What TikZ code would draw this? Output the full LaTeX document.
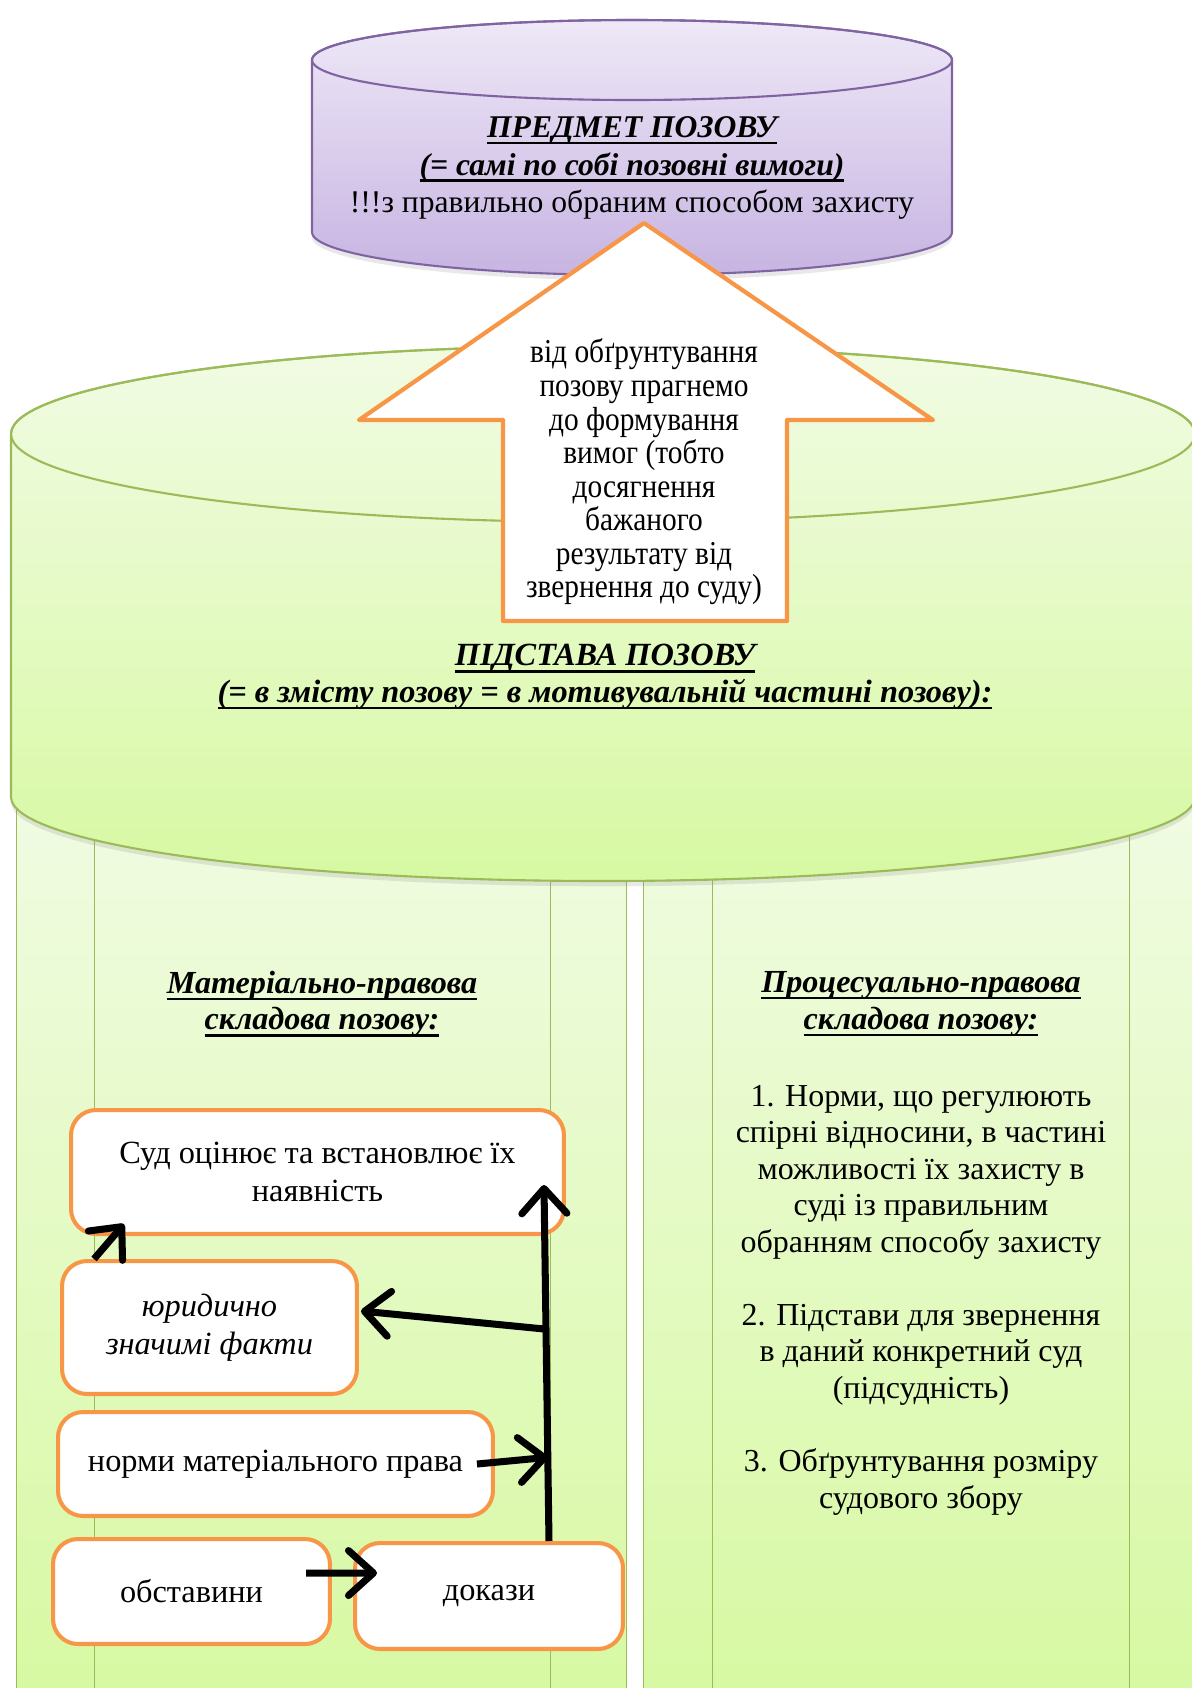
\documentclass[tikz,border=0pt]{standalone}
\usepackage{fontspec}
\setmainfont{Liberation Serif}
\newfontfamily\narrowfont[FakeStretch=0.88]{Liberation Serif}
\usetikzlibrary{arrows.meta,shadows}
\definecolor{lilac}{HTML}{8064A2}
\definecolor{liltop}{HTML}{EEE8F7}
\definecolor{lilbot}{HTML}{C7B4E2}
\definecolor{leaf}{HTML}{9BBB59}
\definecolor{leaftop}{HTML}{F1FBE4}
\definecolor{leafbot}{HTML}{D7F9A2}
\definecolor{orng}{HTML}{F79646}
\newcommand{\hd}[1]{\setbox0=\hbox{\bfseries\itshape #1}\leavevmode\rlap{\lower2.4pt\hbox{\vrule width\wd0 height0pt depth1.4pt}}\box0}
\begin{document}
\begin{tikzpicture}[x=0.02cm,y=0.02cm,line join=round,
	box/.style={draw=orng,line width=2.3pt,fill=white,rounded corners=0.5cm,align=center,font=\fontsize{18.4}{21.5}\selectfont},
	arr/.style={-{Straight Barb[length=5mm,width=9mm,round]},line width=4pt},
	shd/.style={drop shadow={opacity=0.18,shadow xshift=0pt,shadow yshift=-3pt}}]
	\useasboundingbox (0,0) rectangle (1192,-1688);
	%stovpy
	\foreach \a/\b/\c/\d in {16/94/550/626,643/712/1129/1210}{
		\draw[leaf,top color=leaftop,bottom color=leafbot](\a,-780)rectangle(\d,-1700);
		\draw[leaf](\b,-780)--(\b,-1700) (\c,-780)--(\c,-1700);}
	%pidstava
	\draw[leaf,line width=1.2pt,shd,top color=leaftop,bottom color=leafbot](11,-434)--(11,-797)
		arc[start angle=180,end angle=360,x radius=592,y radius=84]--(1195,-434)
		arc[start angle=0,end angle=180,x radius=592,y radius=88]--cycle;
	\draw[leaf,line width=1.2pt](603,-434)ellipse[x radius=592,y radius=88];
	%predmet
	\draw[lilac,line width=1.2pt,shd,top color=liltop,bottom color=lilbot](312,-60)--(312,-232)
		arc[start angle=180,end angle=360,x radius=320,y radius=43]--(952,-60)
		arc[start angle=0,end angle=180,x radius=320,y radius=40]--cycle;
	\draw[lilac,line width=1.2pt](632,-60)ellipse[x radius=320,y radius=40];
	\node[align=center,font=\fontsize{18}{21.2}\selectfont](predmet) at (632,-168)
		{\hd{ПРЕДМЕТ ПОЗОВУ}\\ \hd{(= самі по собі позовні вимоги)}\\ !!!з правильно обраним способом захисту};
	%strilka
	\draw[orng,line width=2.4pt,fill=white](644,-223)--(933,-420)--(787,-420)--(787,-621)
		--(503,-621)--(503,-420)--(359,-420)--cycle;
	\node[align=center,font=\narrowfont\fontsize{19}{19.1}\selectfont](meta) at (644,-472)
		{від обґрунтування\\ позову прагнемо\\ до формування\\ вимог (тобто\\ досягнення\\ бажаного\\ результату від\\ звернення до суду)};
	\node[align=center,font=\fontsize{18.4}{20.8}\selectfont](pidstava) at (605,-677)
		{\hd{ПІДСТАВА ПОЗОВУ}\\ \hd{(= в змісту позову = в мотивувальній частині позову):}};
	\node[align=center,font=\fontsize{18.3}{20.8}\selectfont](mat) at (322,-1004)
		{\hd{Матеріально-правова}\\ \hd{складова позову:}};
	\node[align=center,font=\fontsize{18.3}{20.8}\selectfont](proc) at (921,-1004)
		{\hd{Процесуально-правова}\\ \hd{складова позову:}};
	\node[align=center,font=\fontsize{18.2}{20.8}\selectfont](spysok) at (921,-1300)
		{1. Норми, що регулюють\\ спірні відносини, в частині\\ можливості їх захисту в\\ суді із правильним\\ обранням способу захисту\\[20.8pt]
		2. Підстави для звернення\\ в даний конкретний суд\\ (підсудність)\\[20.8pt]
		3. Обґрунтування розміру\\ судового збору};
	%bloky
	\node[box,minimum width=9.86cm,minimum height=2.48cm](sud) at (317.5,-1172) {Суд оцінює та встановлює їх\\ наявність};
	\node[box,minimum width=5.9cm,minimum height=2.66cm](fakty) at (209.5,-1327.5) {\textit{юридично}\\ \textit{значимі факти}};
	\node[box,minimum width=8.7cm,minimum height=2.08cm](normy) at (275.5,-1464) {норми матеріального права};
	\node[box,minimum width=5.54cm,minimum height=2.1cm](obst) at (191.5,-1591.5) {обставини};
	\node[box,minimum width=5.36cm,minimum height=2.12cm](dokazy) at (489,-1596) {докази};
	\draw[arr]([xshift=1.2cm]dokazy.north)--coordinate[pos=0.235](j2)coordinate[pos=0.595](j1)([xshift=-0.44cm,yshift=-0.26cm]sud.east);
	\draw[arr](j1)--([xshift=0.04cm,yshift=0.33cm]fakty.east);
	\draw[arr]([xshift=-0.36cm]normy.east)--(j2);
	\draw[arr]([xshift=-0.52cm,yshift=0.37cm]obst.east)--([xshift=0.48cm,yshift=0.46cm]dokazy.west);
	\draw[arr]([xshift=-2.31cm]fakty.north)--([xshift=1.1cm,yshift=0.24cm]sud.south west);
\end{tikzpicture}
\end{document}
